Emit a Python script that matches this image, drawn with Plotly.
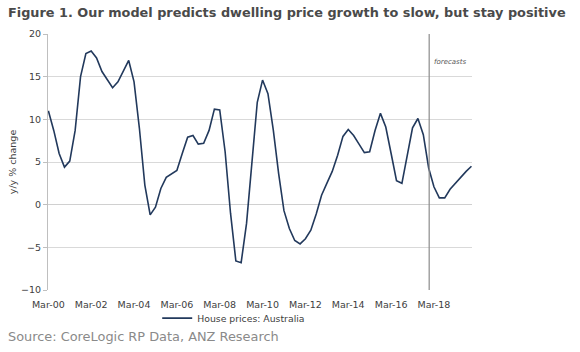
import plotly.graph_objects as go
import pandas as pd

# Quarterly y/y % change in house prices, Mar-00 .. Dec-19 (forecasts after Dec-17)
start_quarter = "2000-03-01"
house_prices = [
    11.0, 8.7, 6.0, 4.4, 5.1, 8.7, 15.0, 17.7, 18.0, 17.2,
    15.6, 14.6, 13.7, 14.4, 15.7, 16.9, 14.4, 8.9, 2.3, -1.2,
    -0.3, 1.9, 3.2, 3.6, 4.0, 6.0, 7.9, 8.1, 7.1, 7.2,
    8.7, 11.2, 11.1, 6.2, -1.0, -6.6, -6.8, -2.2, 4.8, 12.0,
    14.6, 13.0, 8.7, 3.6, -0.7, -2.8, -4.2, -4.6, -4.0, -3.0,
    -1.1, 1.1, 2.5, 3.9, 5.8, 8.0, 8.8, 8.1, 7.1, 6.1,
    6.2, 8.7, 10.7, 9.1, 6.0, 2.8, 2.5, 5.6, 9.0, 10.1,
    8.2, 4.3, 2.1, 0.8, 0.8, 1.8, 2.5, 3.2, 3.9, 4.5,
]
series_name = "House prices: Australia"
forecast_start = "2017-12-10"
forecast_label = "forecasts"
y_ticks = [-10, -5, 0, 5, 10, 15, 20]
x_tick_years = list(range(2000, 2019, 2))

title_text = "Figure 1. Our model predicts dwelling price growth to slow, but stay positive"
source_text = "Source: CoreLogic RP Data, ANZ Research"
y_title = "y/y % change"

dates = pd.date_range(start_quarter, periods=len(house_prices), freq="3MS")
tick_vals = [pd.Timestamp(f"{y}-03-01") for y in x_tick_years]

fig = go.Figure()
fig.add_trace(go.Scatter(
    x=dates, y=house_prices, mode="lines", name=series_name,
    line=dict(color="#22395c", width=1.6),
))

fig.add_shape(type="line", xref="x", yref="paper",
              x0=forecast_start, x1=forecast_start, y0=0, y1=1,
              line=dict(color="#8c8c8c", width=1.2))
fig.add_annotation(xref="paper", yref="paper", x=0.99, y=0.89,
                   xanchor="right", yanchor="middle", showarrow=False,
                   text=f"<i>{forecast_label}</i>",
                   font=dict(family="DejaVu Sans", size=7, color="#595959"))

fig.add_annotation(xref="paper", yref="paper", x=-0.1, y=1.085,
                   xanchor="left", yanchor="middle", showarrow=False,
                   text=f"<b>{title_text}</b>",
                   font=dict(family="DejaVu Sans", size=12.85, color="#4a4a4a"))
fig.add_annotation(xref="paper", yref="paper", x=-0.1, y=-0.183,
                   xanchor="left", yanchor="middle", showarrow=False,
                   text=source_text,
                   font=dict(family="DejaVu Sans", size=12.9, color="#8a8a8a"))

fig.update_layout(
    width=580, height=352,
    margin=dict(l=48, r=108, t=34, b=62),
    paper_bgcolor="white", plot_bgcolor="white",
    font=dict(family="DejaVu Sans", size=9.5, color="#404040"),
    showlegend=True,
    legend=dict(orientation="h", x=0.438, xanchor="center", y=-0.11, yanchor="middle",
                font=dict(size=9.3, color="#404040"), bgcolor="rgba(0,0,0,0)"),
    xaxis=dict(
        tickmode="array", tickvals=tick_vals, tickformat="%b-%y",
        range=[pd.Timestamp("2000-02-24"), pd.Timestamp("2019-12-10")],
        showgrid=False, zeroline=False, showline=False, automargin=False,
        ticks="outside", ticklen=6, tickcolor="rgba(0,0,0,0)",
    ),
    yaxis=dict(
        range=[-10, 20], tickvals=y_ticks, showgrid=True, gridcolor="#d9d9d9", gridwidth=1,
        zeroline=True, zerolinecolor="#d0d0d0", zerolinewidth=1,
        showline=True, linecolor="#bfbfbf", linewidth=1, automargin=False,
        ticks="outside", ticklen=4, tickcolor="#bfbfbf",
        title=dict(text=y_title, standoff=2, font=dict(size=9.5)),
    ),
)

fig.write_html("out.html")
